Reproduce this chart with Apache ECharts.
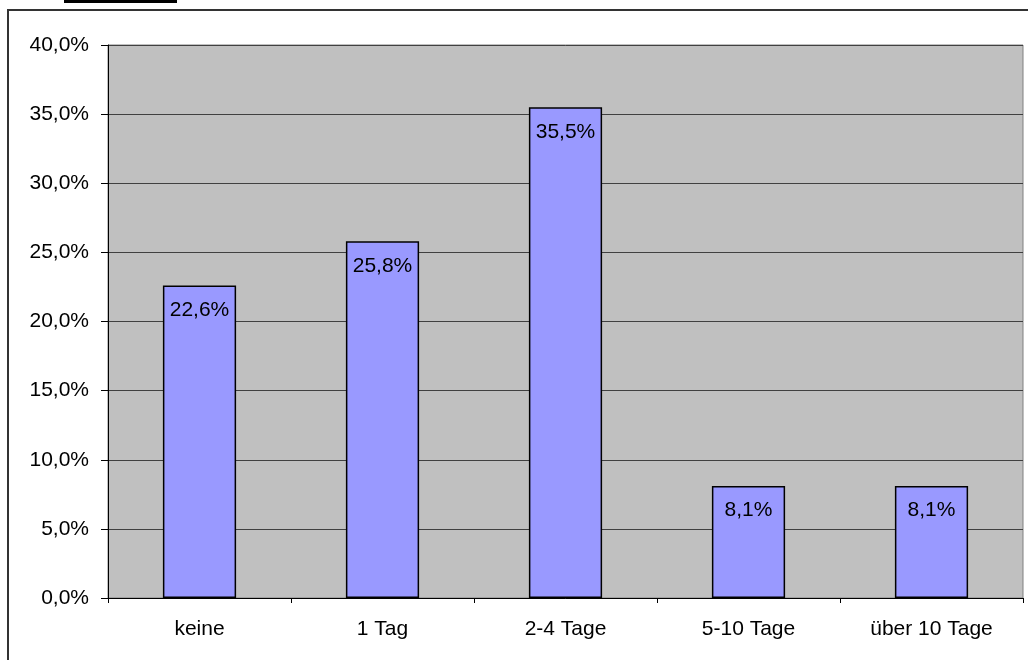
<!DOCTYPE html>
<html>
<head>
<meta charset="utf-8">
<script src="https://cdn.jsdelivr.net/npm/echarts@6/dist/echarts.min.js"></script>
<style>
  html, body { margin: 0; padding: 0; background: #fff; }
  #chart { width: 1028px; height: 660px; }
</style>
</head>
<body>
<div id="chart"></div>
<script>
// Anteil der Befragten nach Anzahl der Fehltage
const categories = ['keine', '1 Tag', '2-4 Tage', '5-10 Tage', 'über 10 Tage'];
const values = [22.6, 25.8, 35.5, 8.1, 8.1];

const fmt = (v, digits) => v.toFixed(digits).replace('.', ',') + '%';
const FONT = '"Liberation Sans", Arial, sans-serif';

const chart = echarts.init(document.getElementById('chart'), null, { renderer: 'canvas' });

chart.setOption({
  animation: false,
  backgroundColor: '#ffffff',
  textStyle: { fontFamily: FONT },
  graphic: [
    {
      type: 'rect',
      shape: { x: 8, y: 10, width: 1100, height: 700 },
      style: { fill: 'none', stroke: '#333333', lineWidth: 2 },
      silent: true
    },
    {
      type: 'rect',
      shape: { x: 64, y: 0, width: 113, height: 3 },
      style: { fill: '#000000' },
      silent: true
    }
  ],
  grid: {
    left: 108,
    right: 5,
    top: 45,
    bottom: 62,
    show: true,
    backgroundColor: '#c0c0c0',
    borderColor: '#808080',
    borderWidth: 1
  },
  xAxis: {
    type: 'category',
    data: categories,
    axisLine: { show: true, lineStyle: { color: '#000', width: 1 } },
    axisTick: { show: true, length: 5, alignWithLabel: false, lineStyle: { color: '#000' } },
    axisLabel: { color: '#000', fontSize: 21, fontFamily: FONT, margin: 21 }
  },
  yAxis: {
    type: 'value',
    min: 0,
    max: 40,
    interval: 5,
    axisLine: { show: true, lineStyle: { color: '#000', width: 1 } },
    axisTick: { show: true, length: 7, lineStyle: { color: '#000' } },
    axisLabel: {
      color: '#000', fontSize: 21, fontFamily: FONT, margin: 19,
      formatter: v => fmt(v, 1)
    },
    splitLine: { show: true, lineStyle: { color: '#404040', width: 1 } }
  },
  series: [{
    type: 'bar',
    data: values,
    barWidth: '40%',
    itemStyle: { color: '#9999ff', borderColor: '#000', borderWidth: 1.5 },
    label: {
      show: true,
      position: 'insideTop',
      distance: 14,
      color: '#000',
      fontSize: 21,
      fontFamily: FONT,
      formatter: p => fmt(p.value, 1)
    }
  }]
});
</script>
</body>
</html>
